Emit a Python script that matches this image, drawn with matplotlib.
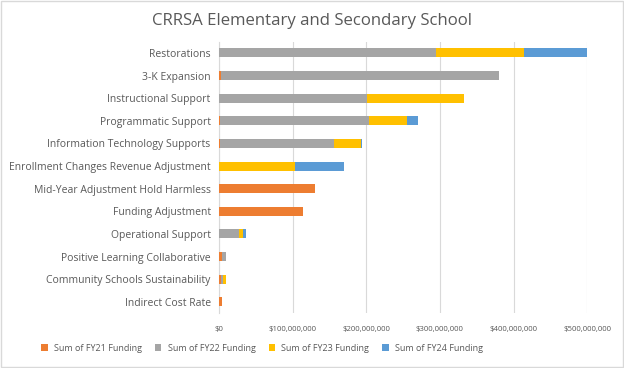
import numpy as np
import matplotlib
matplotlib.use("Agg")
import matplotlib.pyplot as plt
from matplotlib.ticker import FuncFormatter

categories = [
    "Restorations",
    "3-K Expansion",
    "Instructional Support",
    "Programmatic Support",
    "Information Technology Supports",
    "Enrollment Changes Revenue Adjustment",
    "Mid-Year Adjustment Hold Harmless",
    "Funding Adjustment",
    "Operational Support",
    "Positive Learning Collaborative",
    "Community Schools Sustainability",
    "Indirect Cost Rate",
]

# values in dollars
fy21 = [0, 3.0e6, 0, 1.0e6, 1.5e6, 0, 130.0e6, 113.5e6, 0, 4.5e6, 3.2e6, 4.5e6]
fy22 = [294.0e6, 377.5e6, 200.3e6, 202.5e6, 155.0e6, 0, 0, 0, 27.7e6, 5.5e6, 2.2e6, 0]
fy23 = [120.8e6, 0, 132.6e6, 51.7e6, 35.8e6, 102.6e6, 0, 0, 5.5e6, 0, 4.6e6, 0]
fy24 = [84.5e6, 0, 0, 15.0e6, 1.4e6, 66.8e6, 0, 0, 4.0e6, 0, 0, 0]

series_names = ["Sum of FY21 Funding", "Sum of FY22 Funding",
                "Sum of FY23 Funding", "Sum of FY24 Funding"]
colors = ["#ED7D31", "#A5A5A5", "#FFC000", "#5B9BD5"]

plt.rcParams["font.family"] = ["Open Sans", "DejaVu Sans"]
text_color = "#595959"

fig = plt.figure(figsize=(6.24, 3.68), dpi=100)
ax = fig.add_axes([0.351, 0.149, 0.590, 0.738])

y = np.arange(len(categories))
left = np.zeros(len(categories))
for vals, name, col in zip([fy21, fy22, fy23, fy24], series_names, colors):
    vals = np.array(vals)
    ax.barh(y, vals, left=left, height=0.4, color=col, label=name, zorder=3)
    left += vals

ax.set_yticks(y)
ax.set_yticklabels(categories)
ax.set_ylim(len(categories) - 0.5, -0.5)
ax.set_xlim(0, 500e6)
ax.set_xticks(np.arange(0, 500e6 + 1, 100e6))
ax.xaxis.set_major_formatter(FuncFormatter(lambda v, p: f"${v:,.0f}"))
ax.grid(axis="x", color="#D9D9D9", linewidth=0.8, zorder=0)
for s in ["top", "right", "bottom"]:
    ax.spines[s].set_visible(False)
ax.spines["left"].set_color("#D9D9D9")
ax.tick_params(axis="both", length=0, colors=text_color)
ax.tick_params(axis="y", pad=6, labelsize=7.5)
ax.tick_params(axis="x", pad=9, labelsize=5.6)

fig.suptitle("CRRSA Elementary and Secondary School", x=0.5, y=0.965,
             fontsize=12.1, color=text_color)

handles, labels = ax.get_legend_handles_labels()
fig.legend(handles, labels, loc="center", bbox_to_anchor=(0.42, 0.054), ncol=4,
           frameon=False, fontsize=6.5, handlelength=0.7, handleheight=0.7,
           columnspacing=1.45, handletextpad=0.7, labelcolor=text_color)

fig.patches.append(plt.Rectangle((0.001, 0.002), 0.997, 0.995, transform=fig.transFigure,
                                 fill=False, edgecolor="#D9D9D9", linewidth=1))

fig.savefig("out.png", dpi=100)
